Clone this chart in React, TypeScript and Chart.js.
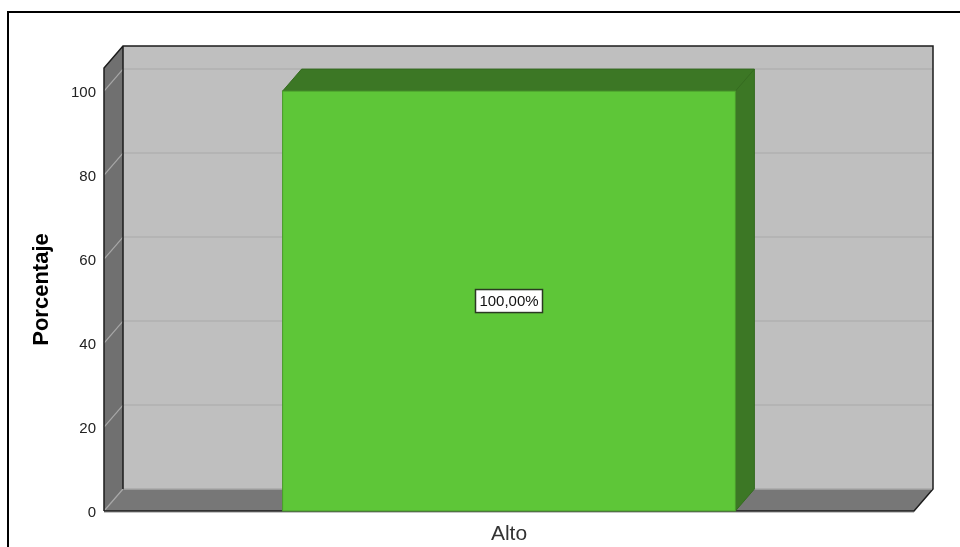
import React, { useEffect, useRef } from "react";
import { Chart, registerables } from "chart.js";

Chart.register(...registerables);

const categories = ["Alto"];
const percentages = [100];
const pointLabels = ["100,00%"];
const yTicks = [0, 20, 40, 60, 80, 100];
const axisTitle = "Porcentaje";

const DX = 19;
const DY = 22;

const box3d = {
  id: "box3d",
  beforeDraw(chart: any) {
    const items = chart.scales.y.getLabelItems();
    if (!chart.$shifted) {
      items.forEach((it: any) => {
        it.options = { ...it.options, translation: [it.options.translation[0], it.options.translation[1] + 2] };
      });
      chart.$shifted = true;
    }
  },
  beforeDatasetsDraw(chart: any) {
    const { ctx, chartArea: a, scales } = chart;
    const { left: l, right: r, top: t, bottom: b } = a;
    ctx.save();
    // back wall
    ctx.fillStyle = "#bfbfbf";
    ctx.fillRect(l + DX, t - DY, r - l, b - t);
    // left wall
    ctx.fillStyle = "#707070";
    ctx.beginPath();
    ctx.moveTo(l, t);
    ctx.lineTo(l + DX, t - DY);
    ctx.lineTo(l + DX, b - DY);
    ctx.lineTo(l, b);
    ctx.closePath();
    ctx.fill();
    // floor
    ctx.fillStyle = "#777777";
    ctx.beginPath();
    ctx.moveTo(l, b);
    ctx.lineTo(l + DX, b - DY);
    ctx.lineTo(r + DX, b - DY);
    ctx.lineTo(r, b);
    ctx.closePath();
    ctx.fill();
    // grid lines
    ctx.lineWidth = 1.5;
    for (const v of yTicks) {
      const y = scales.y.getPixelForValue(v);
      if (v > 0) {
        ctx.strokeStyle = "#b0b0b0";
        ctx.beginPath();
        ctx.moveTo(l + DX, y - DY);
        ctx.lineTo(r + DX, y - DY);
        ctx.stroke();
      }
      ctx.strokeStyle = "#a8a8a8";
      ctx.lineWidth = 1.2;
      ctx.beginPath();
      ctx.moveTo(l, y);
      ctx.lineTo(l + DX, y - DY);
      ctx.stroke();
      ctx.lineWidth = 1.5;
    }
    // soft shadow below the front edge
    ctx.strokeStyle = "#c4c4c4";
    ctx.lineWidth = 1;
    ctx.beginPath();
    ctx.moveTo(l, b + 1.5);
    ctx.lineTo(r, b + 1.5);
    ctx.stroke();
    // outlines
    ctx.strokeStyle = "#1c1c1c";
    ctx.lineWidth = 1.5;
    ctx.beginPath();
    ctx.moveTo(l, b);
    ctx.lineTo(l, t);
    ctx.lineTo(l + DX, t - DY);
    ctx.lineTo(r + DX, t - DY);
    ctx.lineTo(r + DX, b - DY);
    ctx.lineTo(r, b);
    ctx.lineTo(l, b);
    ctx.moveTo(l + DX, t - DY);
    ctx.lineTo(l + DX, b - DY);
    ctx.stroke();
    ctx.strokeStyle = "#a8a8a8";
    ctx.lineWidth = 1.5;
    ctx.beginPath();
    ctx.moveTo(l + DX + 1, b - DY);
    ctx.lineTo(r + DX - 1, b - DY);
    ctx.stroke();
    ctx.restore();
  },
  afterDatasetsDraw(chart: any) {
    const { ctx } = chart;
    const meta = chart.getDatasetMeta(0);
    ctx.save();
    meta.data.forEach((bar: any, i: number) => {
      const hw = bar.width / 2;
      const l = bar.x - hw;
      const r = bar.x + hw;
      const t = bar.y;
      const b = bar.base;
      ctx.fillStyle = "#3c7725";
      ctx.strokeStyle = "#356b20";
      ctx.lineWidth = 1;
      ctx.beginPath();
      ctx.moveTo(l, t);
      ctx.lineTo(l + DX, t - DY);
      ctx.lineTo(r + DX, t - DY);
      ctx.lineTo(r + DX, b - DY);
      ctx.lineTo(r, b);
      ctx.lineTo(r, t);
      ctx.closePath();
      ctx.fill();
      ctx.stroke();
      ctx.beginPath();
      ctx.moveTo(r, t);
      ctx.lineTo(r + DX, t - DY);
      ctx.stroke();
      ctx.fillStyle = "#5ec638";
      ctx.strokeStyle = "#4a9a2c";
      ctx.fillRect(l, t, r - l, b - t);
      ctx.strokeRect(l, t, r - l, b - t);

      const text = pointLabels[i];
      ctx.font = "15px 'Liberation Sans'";
      ctx.textAlign = "center";
      ctx.textBaseline = "middle";
      const w = 67;
      const h = 23;
      const cy = (t + b) / 2;
      ctx.fillStyle = "#ffffff";
      ctx.strokeStyle = "#2b3a22";
      ctx.lineWidth = 1.5;
      ctx.fillRect(bar.x - w / 2, cy - h / 2, w, h);
      ctx.strokeRect(bar.x - w / 2, cy - h / 2, w, h);
      ctx.fillStyle = "#111111";
      ctx.fillText(text, bar.x, cy + 1);
    });
    ctx.restore();
  },
};

export default function App() {
  const ref = useRef<HTMLCanvasElement>(null);
  useEffect(() => {
    const chart = new Chart(ref.current as HTMLCanvasElement, {
      type: "bar",
      data: {
        labels: categories,
        datasets: [
          {
            data: percentages,
            backgroundColor: "#5ec638",
            barPercentage: 0.559,
            categoryPercentage: 1,
          },
        ],
      },
      options: {
        animation: false,
        responsive: false,
        devicePixelRatio: 1,
        layout: { padding: { left: 0, top: 68, right: 46, bottom: 0 } },
        plugins: { legend: { display: false }, tooltip: { enabled: false } },
        scales: {
          x: {
            afterFit: (s: any) => {
              s.height = 36;
            },
            grid: { display: false },
            border: { display: false },
            ticks: { color: "#333333", font: { family: "'Liberation Sans'", size: 21 }, padding: 3 },
          },
          y: {
            min: 0,
            max: 105.5,
            afterBuildTicks: (s: any) => {
              s.ticks = yTicks.map((value) => ({ value }));
            },
            afterFit: (s: any) => {
              s.width = 104;
            },
            grid: { display: false },
            border: { display: false },
            ticks: { color: "#222222", font: { family: "'Liberation Sans'", size: 15 }, padding: 0 },
            title: {
              display: true,
              text: axisTitle,
              color: "#000000",
              padding: { top: 29, bottom: 0 },
              font: { family: "'Liberation Sans'", size: 22, weight: "bold" },
            },
          },
        },
      },
      plugins: [box3d],
    } as any);
    return () => chart.destroy();
  }, []);
  return (
    <div style={{ position: "fixed", left: 0, top: 0, width: 960, height: 547, overflow: "hidden", background: "#fff" }}>
      <div
        style={{
          position: "absolute",
          left: 7,
          top: 11,
          width: 1000,
          height: 600,
          borderLeft: "2px solid #000",
          borderTop: "2px solid #000",
        }}
      />
      <canvas
        ref={ref}
        width={960}
        height={547}
        style={{ display: "block", position: "absolute", left: 0, top: 0 }}
      />
    </div>
  );
}
